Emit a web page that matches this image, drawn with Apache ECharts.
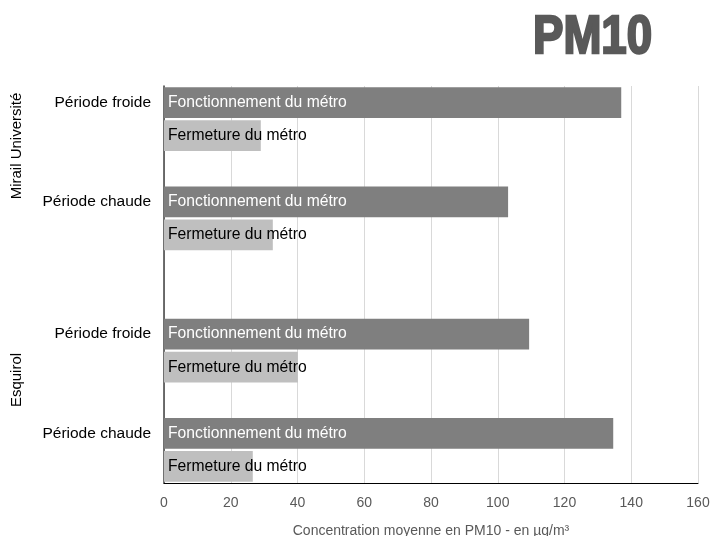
<!DOCTYPE html>
<html>
<head>
<meta charset="utf-8">
<script src="https://cdn.jsdelivr.net/npm/echarts@6/dist/echarts.min.js"></script>
<style>
  html, body { margin: 0; padding: 0; background: #fff; }
  #chart { width: 710px; height: 536px; }
</style>
</head>
<body>
<div id="chart"></div>
<script>
// ---- Data ----
const titleText = 'PM10';
const sites = ['Mirail Université', 'Esquirol'];
const periods = ['Période froide', 'Période chaude'];
const seriesNames = ['Fonctionnement du métro', 'Fermeture du métro'];
// order: Mirail froide, Mirail chaude, Esquirol froide, Esquirol chaude
const metroOn = [137.0, 103.1, 109.4, 134.6];
const metroOff = [29.0, 32.6, 40.1, 26.6];
const xMin = 0, xMax = 160, xStep = 20;
const xAxisName = 'Concentration moyenne en PM10 - en µg/m³';

// ---- Build category slots: 1 empty slot between periods, 2 between sites ----
const slotLabels = [];
const onData = [];
const offData = [];
function gap() { slotLabels.push(''); onData.push('-'); offData.push('-'); }
sites.forEach((site, s) => {
  if (s > 0) { gap(); gap(); }
  periods.forEach((p, k) => {
    const i = s * periods.length + k;
    if (k > 0) gap();
    slotLabels.push(p); onData.push(metroOn[i]); offData.push('-');
    slotLabels.push(''); onData.push('-'); offData.push(metroOff[i]);
  });
});
const slotIds = slotLabels.map((_, i) => String(i));

const FONT = 'Liberation Sans, Arial, sans-serif';
const chart = echarts.init(document.getElementById('chart'), null, { renderer: 'canvas' });
chart.setOption({
  backgroundColor: '#ffffff',
  animation: false,
  textStyle: { fontFamily: FONT },
  grid: { left: 164, right: 12, top: 86, bottom: 53, containLabel: false, outerBoundsMode: 'none' },
  graphic: [
    { type: 'text', x: 533, y: 12, scaleX: 0.86,
      style: { text: titleText, font: 'bold 53px ' + FONT, fill: '#595959',
               stroke: '#595959', lineWidth: 2.4 } },
    { type: 'text', x: 17, y: 146, rotation: Math.PI / 2,
      style: { text: sites[0], font: '15px ' + FONT, fill: '#000', align: 'center', verticalAlign: 'middle' } },
    { type: 'text', x: 17, y: 380, rotation: Math.PI / 2,
      style: { text: sites[1], font: '15px ' + FONT, fill: '#000', align: 'center', verticalAlign: 'middle' } }
  ],
  xAxis: {
    type: 'value', min: xMin, max: xMax, interval: xStep,
    name: xAxisName, nameLocation: 'middle', nameGap: 41,
    nameTextStyle: { color: '#595959', fontSize: 14, fontFamily: FONT },
    axisLine: { show: true, lineStyle: { color: '#000', width: 1 } },
    axisTick: { show: false },
    axisLabel: { color: '#595959', fontSize: 14, margin: 13, fontFamily: FONT },
    splitLine: { show: true, lineStyle: { color: '#d9d9d9', width: 1 } }
  },
  yAxis: {
    type: 'category', inverse: true, data: slotIds,
    axisLine: { show: true, lineStyle: { color: '#404040', width: 1.5 } },
    axisTick: { show: false },
    axisLabel: { color: '#000', fontSize: 15.5, margin: 13, fontFamily: FONT,
                 interval: 0, formatter: (v, idx) => slotLabels[idx] },
    splitLine: { show: false }
  },
  series: [
    { name: seriesNames[0], type: 'bar', data: onData, barWidth: '93%', barGap: '-100%',
      itemStyle: { color: '#7f7f7f' },
      label: { show: true, position: 'insideLeft', distance: 4, formatter: seriesNames[0],
               color: '#ffffff', fontSize: 15.7, fontFamily: FONT } },
    { name: seriesNames[1], type: 'bar', data: offData, barWidth: '93%', barGap: '-100%',
      itemStyle: { color: '#bfbfbf' },
      label: { show: true, position: 'insideLeft', distance: 4, formatter: seriesNames[1],
               color: '#000000', fontSize: 15.7, fontFamily: FONT } }
  ]
});
</script>
</body>
</html>
